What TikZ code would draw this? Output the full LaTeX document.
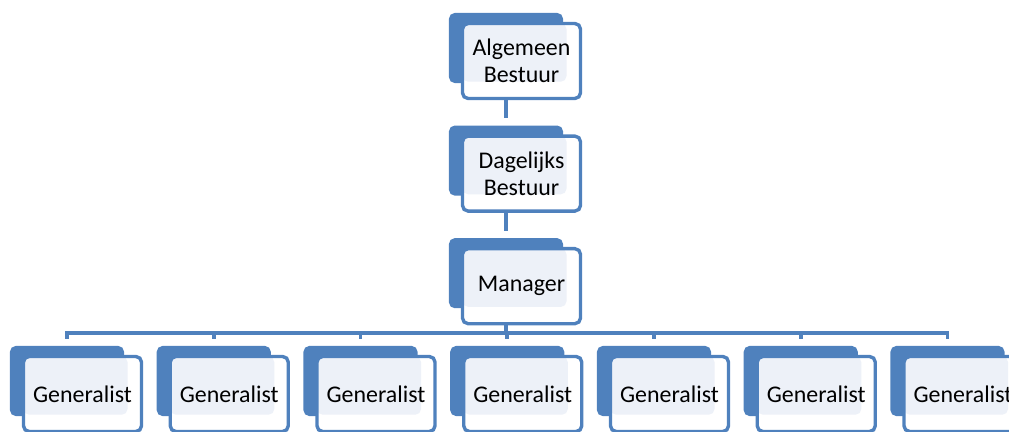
\documentclass[tikz,border=0pt]{standalone}
\usepackage{fontspec}
\setmainfont{Carlito}
\usetikzlibrary{positioning,backgrounds}
\definecolor{OrgBlue}{RGB}{79,129,189}
\definecolor{OrgLight}{RGB}{237,241,248}

\begin{document}
\begin{tikzpicture}[
x=0.025cm,y=-0.025cm,
node distance=1.05cm,
backbox/.style={rectangle,rounded corners=4pt,fill=OrgBlue,inner sep=0pt,
minimum width=2.85cm,minimum height=1.75cm},
frontbox/.style={rectangle,rounded corners=4pt,draw=OrgBlue,line width=2.4pt,fill=white,
inner sep=0pt,minimum width=2.95cm,minimum height=1.875cm,align=center,
font=\fontsize{17}{19.5}\selectfont,
path picture={\fill[OrgLight] (path picture bounding box.north west) rectangle
([xshift=-0.35cm,yshift=0.42cm]path picture bounding box.south east);}},
link/.style={draw=OrgBlue,line width=2.6pt,shorten >=0.17cm}
]
\useasboundingbox (0,0) rectangle (1009,432);
\node[backbox] (abb) at (506,48) {};
\node[frontbox] (ab) at ([shift={(15.5,13)}]abb) {Algemeen\\Bestuur};
\node[backbox,below=of abb] (dbb) {};
\node[frontbox] (db) at ([shift={(15.5,13)}]dbb) {Dagelijks\\Bestuur};
\node[backbox,below=of dbb] (mgrb) {};
\node[frontbox] (mgr) at ([shift={(15.5,13)}]mgrb) {Manager};
\foreach \i in {1,...,7}{
  \node[backbox] (gb\i) at ({67+146.75*(\i-1)},381) {};
  \node[frontbox] (g\i) at ([shift={(15.5,13)}]gb\i) {Generalist};
}
\begin{scope}[on background layer]
\draw[link] (abb) -- (dbb.north);
\draw[link] (dbb) -- (mgrb.north);
\coordinate (bus) at (506,333);
\foreach \i in {1,...,7} \draw[link] (mgrb) |- (bus) -| (gb\i.north);
\end{scope}
\end{tikzpicture}
\end{document}
